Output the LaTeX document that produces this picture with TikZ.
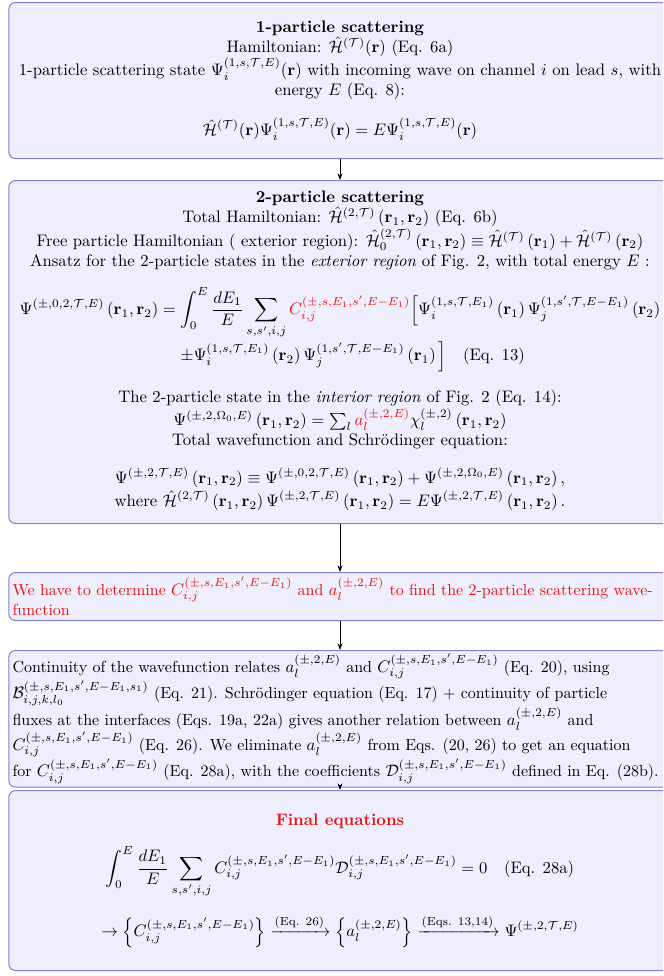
\documentclass[tikz,border=0pt]{standalone}
\usepackage{amsmath,amssymb}
\usetikzlibrary{arrows.meta,positioning}

\definecolor{boxdraw}{RGB}{128,128,210}
\definecolor{boxfill}{RGB}{238,238,252}
\definecolor{keyred}{RGB}{228,20,20}

\newcommand{\rpair}{\left(\mathbf{r}_1,\mathbf{r}_2\right)}
\newcommand{\Hop}{\hat{\mathcal{H}}}
\newcommand{\Csup}{(\pm,s,E_1,s',E-E_1)}
\newcommand{\Cij}{C_{i,j}^{\Csup}}
\newcommand{\al}{a_l^{(\pm,2,E)}}

\begin{document}
\begin{tikzpicture}[x=0.6pt, y=-0.6pt,
    stage/.style={draw=boxdraw, fill=boxfill, line width=0.6pt,
                  rounded corners=4pt, text width=393pt, inner xsep=2.2pt,
                  inner ysep=2pt, align=flush center, anchor=north},
    stageleft/.style={stage, align=flush left,
                      font=\fontsize{9.6pt}{12.4pt}\selectfont,
                      execute at begin node={\lineskiplimit=-1pt\relax}},
    flow/.style={-{Stealth[length=4pt]}, line width=0.5pt},
]
    \useasboundingbox (0,0) rectangle (663,976);
    \clip (0,0) rectangle (663,976);

    \node[stage, minimum height=93.6pt] (single) at (340,2) {%
        \textbf{1-particle scattering}\\
        Hamiltonian: $\Hop^{(\mathcal{T})}(\mathbf{r})$ (Eq. 6a)\\
        1-particle scattering state $\Psi_i^{(1,s,\mathcal{T},E)}(\mathbf{r})$
        with incoming wave on channel $i$ on lead $s$, with\\ energy $E$ (Eq. 8):
        \[\Hop^{(\mathcal{T})}(\mathbf{r})\Psi_i^{(1,s,\mathcal{T},E)}(\mathbf{r})
          =E\Psi_i^{(1,s,\mathcal{T},E)}(\mathbf{r})\]};

    \node[stage, minimum height=205.8pt] (pair) at (340,180) {%
        \textbf{2-particle scattering}\\
        Total Hamiltonian: $\Hop^{(2,\mathcal{T})}\rpair$ (Eq. 6b)\\
        Free particle Hamiltonian ( exterior region):
        $\Hop_0^{(2,\mathcal{T})}\rpair\equiv\Hop^{(\mathcal{T})}\left(\mathbf{r}_1\right)
          +\Hop^{(\mathcal{T})}\left(\mathbf{r}_2\right)$\\
        Ansatz for the 2-particle states in the \emph{exterior region} of Fig. 2,
        with total energy $E$ :
        \[\begin{aligned}
          \Psi^{(\pm,0,2,\mathcal{T},E)}\rpair &= \int_0^E\frac{dE_1}{E}\sum_{s,s',i,j}
            \textcolor{keyred}{\Cij}\Big[\Psi_i^{(1,s,\mathcal{T},E_1)}\left(\mathbf{r}_1\right)
            \Psi_j^{(1,s',\mathcal{T},E-E_1)}\left(\mathbf{r}_2\right)\\[-2pt]
          &\mathrel{\phantom{=}}\pm\Psi_i^{(1,s,\mathcal{T},E_1)}\left(\mathbf{r}_2\right)
            \Psi_j^{(1,s',\mathcal{T},E-E_1)}\left(\mathbf{r}_1\right)\Big]\quad\text{(Eq. 13)}
        \end{aligned}\]
        The 2-particle state in the \emph{interior region} of Fig. 2 (Eq. 14):\\
        $\Psi^{(\pm,2,\Omega_0,E)}\rpair=\sum_l\textcolor{keyred}{\al}\chi_l^{(\pm,2)}\rpair$\\
        Total wavefunction and Schr\"odinger equation:
        \[\begin{gathered}
          \Psi^{(\pm,2,\mathcal{T},E)}\rpair\equiv\Psi^{(\pm,0,2,\mathcal{T},E)}\rpair
            +\Psi^{(\pm,2,\Omega_0,E)}\rpair,\\[-3pt]
          \text{where }\Hop^{(2,\mathcal{T})}\rpair\Psi^{(\pm,2,\mathcal{T},E)}\rpair
            =E\Psi^{(\pm,2,\mathcal{T},E)}\rpair.
        \end{gathered}\]};

    \node[stageleft, text=keyred, minimum height=28.8pt] (goal) at (340,572) {%
        We have to determine $\Cij$ and $\al$ to find the 2-particle scattering
        wave-\\function};

    \node[stageleft, minimum height=72pt] (continuity) at (340,650) {%
        Continuity of the wavefunction relates $\al$ and $\Cij$ (Eq. 20), using\\
        $\mathcal{B}_{i,j,k,l_0}^{(\pm,s,E_1,s',E-E_1,s_1)}$ (Eq. 21).
        Schr\"odinger equation (Eq. 17) + continuity of particle\\ fluxes at the
        interfaces (Eqs. 19a, 22a) gives another relation between $\al$ and\\
        $\Cij$ (Eq. 26). We eliminate $\al$ from Eqs. (20, 26) to get an equation\\
        for $\Cij$ (Eq. 28a), with the coefficients $\mathcal{D}_{i,j}^{\Csup}$
        defined in Eq. (28b).};

    \node[stage, minimum height=108pt] (final) at (340,790) {%
        \textcolor{keyred}{\textbf{Final equations}}
        \[\int_0^E\frac{dE_1}{E}\sum_{s,s',i,j}\Cij\mathcal{D}_{i,j}^{\Csup}=0
          \quad\text{(Eq. 28a)}\]
        \[\rightarrow\left\{\Cij\right\}\xrightarrow{\text{(Eq. 26)}}\left\{\al\right\}
          \xrightarrow{\text{(Eqs. 13,14)}}\Psi^{(\pm,2,\mathcal{T},E)}\]};

    \draw[flow] (single) -- (pair);
    \draw[flow] (pair) -- (goal);
    \draw[flow] (goal) -- (continuity);
    \draw[flow] (continuity) -- (final);

\end{tikzpicture}
\end{document}
